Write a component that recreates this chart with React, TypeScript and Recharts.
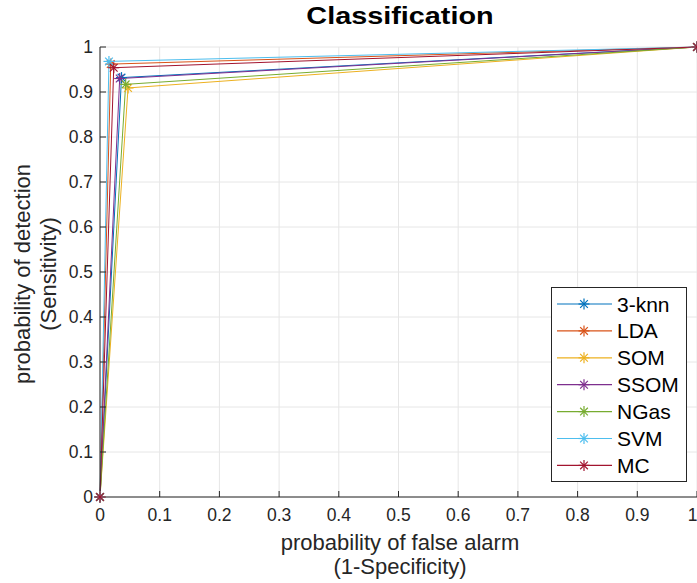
import React from 'react';
import { LineChart, Line, XAxis, YAxis, CartesianGrid, Legend } from 'recharts';

// ROC operating points of each classifier (one point per method)
const methods = ['3-knn', 'LDA', 'SOM', 'SSOM', 'NGas', 'SVM', 'MC'];
const colors = ['#0072BD', '#D95319', '#EDB120', '#7E2F8E', '#77AC30', '#4DBEEE', '#A2142F'];
const falseAlarm = [0.036, 0.018, 0.047, 0.033, 0.043, 0.015, 0.023];
const detection = [0.932, 0.962, 0.909, 0.930, 0.917, 0.968, 0.954];
const rocStart = { x: 0, y: 0 };
const rocEnd = { x: 1, y: 1 };
const ticks = [0, 0.1, 0.2, 0.3, 0.4, 0.5, 0.6, 0.7, 0.8, 0.9, 1];

const font = '"Liberation Sans", Arial, Helvetica, sans-serif';
const ink = '#262626';

const series = methods.map((name, i) => ({
  name,
  color: colors[i],
  data: [rocStart, { x: falseAlarm[i], y: detection[i] }, rocEnd],
}));

const Asterisk = (props: any) => {
  const { cx, cy, stroke } = props;
  if (cx == null || cy == null) return null;
  const r = 5.5;
  const d = r * 0.7;
  return (
    <g key={`${cx}-${cy}`} stroke={stroke} strokeWidth={1.2}>
      <line x1={cx - r} y1={cy} x2={cx + r} y2={cy} />
      <line x1={cx} y1={cy - r} x2={cx} y2={cy + r} />
      <line x1={cx - d} y1={cy - d} x2={cx + d} y2={cy + d} />
      <line x1={cx - d} y1={cy + d} x2={cx + d} y2={cy - d} />
    </g>
  );
};

const LegendBox = () => (
  <div style={{ width: 136, height: 195, border: `1px solid ${ink}`, background: '#fff', boxSizing: 'border-box' }}>
    <svg width={134} height={193}>
      {series.map((s, i) => {
        const y = 16 + i * 26.9;
        return (
          <g key={s.name}>
            <line x1={5} y1={y} x2={60} y2={y} stroke={s.color} strokeWidth={1.2} />
            <Asterisk cx={32} cy={y} stroke={s.color} />
            <text x={65} y={y + 7.5} fontSize={21} fontFamily={font} fill="#000">{s.name}</text>
          </g>
        );
      })}
    </svg>
  </div>
);

export default function App() {
  return (
    <div style={{ position: 'absolute', left: 0, top: 0, width: 697, height: 583, background: '#fff', fontFamily: font, overflow: 'hidden' }}>
      <div style={{ position: 'absolute', left: 0, width: 800, top: 2, textAlign: 'center', fontSize: 24, fontWeight: 'bold', color: '#000', transform: 'scaleX(1.2)', transformOrigin: '400px 0' }}>
        Classification
      </div>
      <LineChart width={697} height={583} margin={{ top: 47, right: 0, left: 0, bottom: 0 }}>
        <CartesianGrid stroke="#e6e6e6" horizontal vertical />
        <XAxis
          type="number"
          dataKey="x"
          domain={[0, 1]}
          ticks={ticks}
          height={86}
          tickSize={-6}
          tickMargin={18}
          stroke={ink}
          tick={{ fill: ink, fontSize: 17.5, fontFamily: font }}
        />
        <XAxis
          xAxisId="top"
          orientation="top"
          type="number"
          domain={[0, 1]}
          ticks={ticks}
          height={0}
          tickSize={-6}
          tick={false}
          stroke={ink}
        />
        <YAxis
          type="number"
          domain={[0, 1]}
          ticks={ticks}
          width={100}
          tickSize={-6}
          tickMargin={13}
          stroke={ink}
          tick={{ fill: ink, fontSize: 17.5, fontFamily: font }}
        />
        {series.map((s) => (
          <Line
            key={s.name}
            data={s.data}
            dataKey="y"
            name={s.name}
            type="linear"
            stroke={s.color}
            strokeWidth={1}
            dot={<Asterisk />}
            activeDot={false}
            isAnimationActive={false}
          />
        ))}
        <Legend
          layout="vertical"
          align="center"
          verticalAlign="middle"
          content={<LegendBox />}
          wrapperStyle={{ left: 551, top: 287, width: 136, height: 195 }}
        />
      </LineChart>
      <div style={{ position: 'absolute', left: 0, width: 800, top: 531, textAlign: 'center', fontSize: 22, lineHeight: '24px', color: ink }}>
        probability of false alarm
        <br />
        (1-Specificity)
      </div>
      <div style={{ position: 'absolute', left: 36, top: 272, width: 400, marginLeft: -200, marginTop: -24, textAlign: 'center', fontSize: 22, lineHeight: '26px', color: ink, transform: 'rotate(-90deg)' }}>
        probability of detection
        <br />
        (Sensitivity)
      </div>
    </div>
  );
}
